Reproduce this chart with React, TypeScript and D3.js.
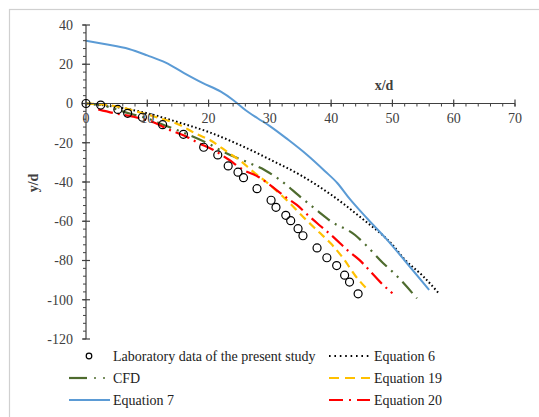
import React from "react";
import * as d3 from "d3";

const labX = [0, 2.4, 5.2, 6.8, 9.2, 12.5, 15.9, 19.2, 21.5, 23.2, 24.8, 25.7, 27.9, 30.2, 31.0, 32.6, 33.4, 34.6, 35.4, 37.7, 39.3, 40.9, 42.2, 43.0, 44.4];
const labY = [0, -0.8, -3, -5, -7, -10.8, -15.7, -22.3, -26.2, -31.8, -35, -37.8, -43.4, -49.3, -52.9, -57, -59.7, -63.8, -67.4, -73.6, -78.6, -82.6, -87.5, -91, -97];

const eq6X = [0, 5, 10, 15, 20, 25, 30, 35, 40, 45, 50, 52, 55, 57.5];
const eq6Y = [0, -1.8, -5, -9.5, -14.5, -21, -28.5, -36.5, -46.5, -58.5, -72, -79.5, -88, -96.5];

const eq7X = [0, 3, 7, 10, 13, 16, 19, 22, 24, 26, 28, 30, 33, 36, 39, 41, 43, 46, 49, 52, 56];
const eq7Y = [32, 30.3, 27.8, 24.5, 20.8, 15.5, 10.5, 6, 1.8, -3.3, -7.5, -11.5, -18.5, -26, -34.5, -40.5, -48.5, -59, -69, -80, -95];

const cfdX = [0, 2.5, 5, 7, 10, 13, 16, 20, 22.5, 26.8, 29.2, 32.7, 34.6, 37.9, 39.8, 43.9, 45.5, 48.5, 50.4, 54];
const cfdY = [0, -0.8, -3, -5, -7.6, -11.3, -15, -20.5, -24.7, -30.5, -34, -41.5, -46.6, -55, -59.7, -67, -71.6, -81.4, -86.9, -99.3];

const eq19X = [0, 5, 9, 11.5, 15.2, 18, 20.2, 23.2, 25.4, 27, 30, 33, 35.4, 38, 40, 42, 44, 46];
const eq19Y = [0, -1.5, -4.7, -7, -10.8, -15.5, -18.6, -25, -29.7, -34, -41.5, -50, -57.7, -65.5, -71.5, -79, -88, -95];

const eq20X = [2, 4.7, 7.7, 11, 13.4, 16.4, 18.3, 20.8, 23.2, 25.7, 28.1, 30, 32.5, 34.4, 36.5, 38.4, 40.6, 42.5, 44.6, 46.3, 48.2, 50];
const eq20Y = [-3, -5, -6.7, -9.6, -13.1, -16.9, -20, -23.7, -28.4, -33.9, -37.3, -41.5, -47.5, -51.7, -57.7, -62.8, -68.7, -74.3, -79.7, -85.2, -91.6, -96.7];

const xTicks = [0, 10, 20, 30, 40, 50, 60, 70];
const yTicks = [40, 20, 0, -20, -40, -60, -80, -100, -120];

const FONT = "Liberation Serif, Times New Roman, DejaVu Serif, serif";

export default function App() {
  const x = d3.scaleLinear().domain([0, 70]).range([86, 515]);
  const y = d3.scaleLinear().domain([-120, 40]).range([339, 25]);
  const line = (xs: number[], ys: number[]) =>
    d3
      .line<number>()
      .x((_, i) => x(xs[i]))
      .y((_, i) => y(ys[i]))
      .curve(d3.curveMonotoneX)(xs.map((v) => v)) || "";

  const xMinor = d3.range(0, 70.01, 2);
  const yMinor = d3.range(-120, 40.01, 4);
  const axisColor = "#404040";
  const tstyle = { fontFamily: FONT, fontSize: "14px" };

  const series = [
    { xs: eq6X, ys: eq6Y, color: "#000000", dash: "1.6,2.4", w: 2 },
    { xs: eq7X, ys: eq7Y, color: "#5B9BD5", dash: "", w: 2 },
    { xs: cfdX, ys: cfdY, color: "#4E6B2E", dash: "15,6,2,6,2,6", w: 2.2 },
    { xs: eq19X, ys: eq19Y, color: "#FFC000", dash: "8,5", w: 2.2 },
    { xs: eq20X, ys: eq20Y, color: "#FF0000", dash: "15,5,2,5", w: 2.2 },
  ];

  const legendRows = [356, 378, 400];

  return (
    <div style={{ position: "absolute", left: 0, top: 0 }}>
      <svg width={539} height={417} style={{ display: "block" }}>
        <rect x={0} y={0} width={539} height={417} fill="#ffffff" />
        <rect x={9.5} y={9.5} width={540} height={420} fill="none" stroke="#d0d0d0" strokeWidth={1.2} />

        {series.map((s, i) => (
          <path key={i} d={line(s.xs, s.ys)} fill="none" stroke={s.color} strokeWidth={s.w} strokeDasharray={s.dash || undefined} />
        ))}

        <line x1={x(0)} x2={x(0)} y1={y(40)} y2={y(-120)} stroke={axisColor} strokeWidth={1.2} />
        <line x1={x(0)} x2={x(70)} y1={y(0)} y2={y(0)} stroke={axisColor} strokeWidth={1.2} />
        {yMinor.map((v) => (
          <line key={"ym" + v} x1={x(0) - 3} x2={x(0)} y1={y(v)} y2={y(v)} stroke={axisColor} strokeWidth={1} />
        ))}
        {yTicks.map((v) => (
          <line key={"yt" + v} x1={x(0) - 4} x2={x(0) + 4} y1={y(v)} y2={y(v)} stroke={axisColor} strokeWidth={1.2} />
        ))}
        {xMinor.map((v) => (
          <line key={"xm" + v} x1={x(v)} x2={x(v)} y1={y(0)} y2={y(0) + 3} stroke={axisColor} strokeWidth={1} />
        ))}
        {xTicks.map((v) => (
          <line key={"xt" + v} x1={x(v)} x2={x(v)} y1={y(0) - 4} y2={y(0) + 3} stroke={axisColor} strokeWidth={1.2} />
        ))}

        {labX.map((v, i) => (
          <circle key={"c" + i} cx={x(v)} cy={y(labY[i])} r={4} fill="none" stroke="#000" strokeWidth={1.2} />
        ))}

        {yTicks.map((v) => (
          <text key={"yl" + v} x={73} y={y(v)} dy="0.35em" textAnchor="end" style={tstyle} fill="#404040">
            {v}
          </text>
        ))}
        {xTicks.map((v) => (
          <text key={"xl" + v} x={x(v)} y={123} textAnchor="middle" style={tstyle} fill="#404040">
            {v}
          </text>
        ))}

        <text x={384} y={90} textAnchor="middle" style={{ ...tstyle, fontWeight: "bold" }} fill="#404040">
          x/d
        </text>
        <text transform="translate(38,183) rotate(-90)" textAnchor="middle" style={{ ...tstyle, fontWeight: "bold" }} fill="#404040">
          y/d
        </text>

        <circle cx={89} cy={legendRows[0]} r={2.8} fill="none" stroke="#000" strokeWidth={1.2} />
        <text x={113} y={legendRows[0] + 5} style={tstyle} fill="#222">Laboratory data of the present study</text>

        <line x1={69} x2={87} y1={legendRows[1]} y2={legendRows[1]} stroke="#4E6B2E" strokeWidth={2.2} />
        <circle cx={95} cy={legendRows[1]} r={1} fill="#4E6B2E" />
        <circle cx={104} cy={legendRows[1]} r={1} fill="#4E6B2E" />
        <text x={113} y={legendRows[1] + 5} style={tstyle} fill="#222">CFD</text>

        <line x1={69} x2={110} y1={legendRows[2]} y2={legendRows[2]} stroke="#5B9BD5" strokeWidth={2} />
        <text x={113} y={legendRows[2] + 5} style={tstyle} fill="#222">Equation 7</text>

        <line x1={329} x2={370} y1={legendRows[0]} y2={legendRows[0]} stroke="#000" strokeWidth={2} strokeDasharray="1.6,3.8" />
        <text x={374} y={legendRows[0] + 5} style={tstyle} fill="#222">Equation 6</text>

        <line x1={329} x2={370} y1={legendRows[1]} y2={legendRows[1]} stroke="#FFC000" strokeWidth={2.2} strokeDasharray="10,6" />
        <text x={374} y={legendRows[1] + 5} style={tstyle} fill="#222">Equation 19</text>

        <line x1={329} x2={370} y1={legendRows[2]} y2={legendRows[2]} stroke="#FF0000" strokeWidth={2.2} strokeDasharray="14,6,2,6" />
        <text x={374} y={legendRows[2] + 5} style={tstyle} fill="#222">Equation 20</text>
      </svg>
    </div>
  );
}
